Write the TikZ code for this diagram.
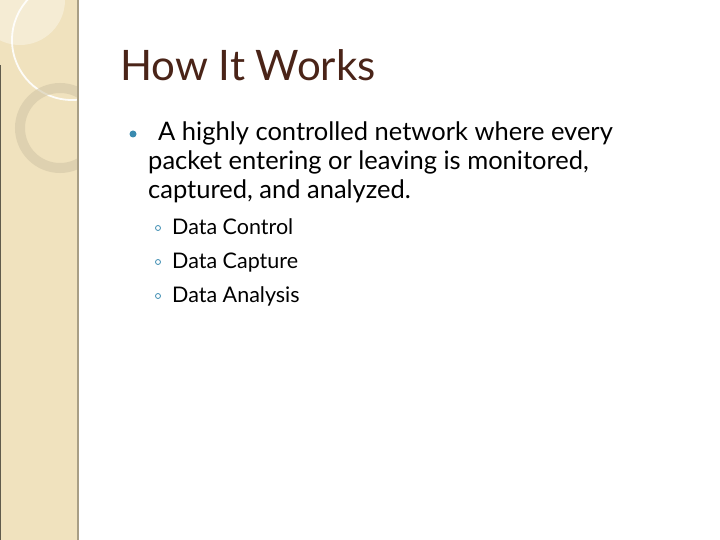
\documentclass[tikz,border=0pt]{standalone}
\usepackage{fontspec}
\setmainfont{Lato}
\definecolor{side}{HTML}{F0E2BE}
\definecolor{titlec}{HTML}{4A2418}
\definecolor{bul}{HTML}{3A8BB0}
\begin{document}
\begin{tikzpicture}[x=1pt,y=-1pt,
  body/.style={anchor=base west,inner sep=0pt,font=\fontsize{25.5}{28}\selectfont},
  sub/.style={anchor=base west,inner sep=0pt,font=\fontsize{21.5}{22}\selectfont}]
\useasboundingbox (0,0) rectangle (720,540);
\fill[white] (0,0) rectangle (720,540);
\fill[side] (0,0) rectangle (78,540);
\begin{scope}
\clip (0,0) rectangle (78,540);
\fill[white,opacity=0.35] (20,0) circle (45);
\draw[white,opacity=0.9,line width=1.8pt] (72,40) circle (60);
\draw[black!12!side,line width=10pt,opacity=0.6] (60,128) circle (40);
\end{scope}
\draw[black!30!side,line width=1.2pt] (78,0) -- (78,540);
\draw[black!60!side,line width=1pt] (0.5,65) -- (0.5,540);
\node[anchor=base west,inner sep=0pt,text=titlec,font=\fontsize{42}{44}\selectfont] (t) at (120,81) {How It Works};
\fill[bul] (133,134) circle (3.5) coordinate (b1);
\node[body] (l1) at (158,141) {A highly controlled network where every};
\node[body] (l2) at (148,170) {packet entering or leaving is monitored,};
\node[body] (l3) at (148,199) {captured, and analyzed.};
\draw[bul,line width=0.8pt] (158,228) circle (2.5) coordinate (s1);
\draw[bul,line width=0.8pt] (158,262) circle (2.5) coordinate (s2);
\draw[bul,line width=0.8pt] (158,296) circle (2.5) coordinate (s3);
\node[sub] (a) at (172,234) {Data Control};
\node[sub] (b) at (172,268) {Data Capture};
\node[sub] (c) at (172,302) {Data Analysis};
\end{tikzpicture}
\end{document}
